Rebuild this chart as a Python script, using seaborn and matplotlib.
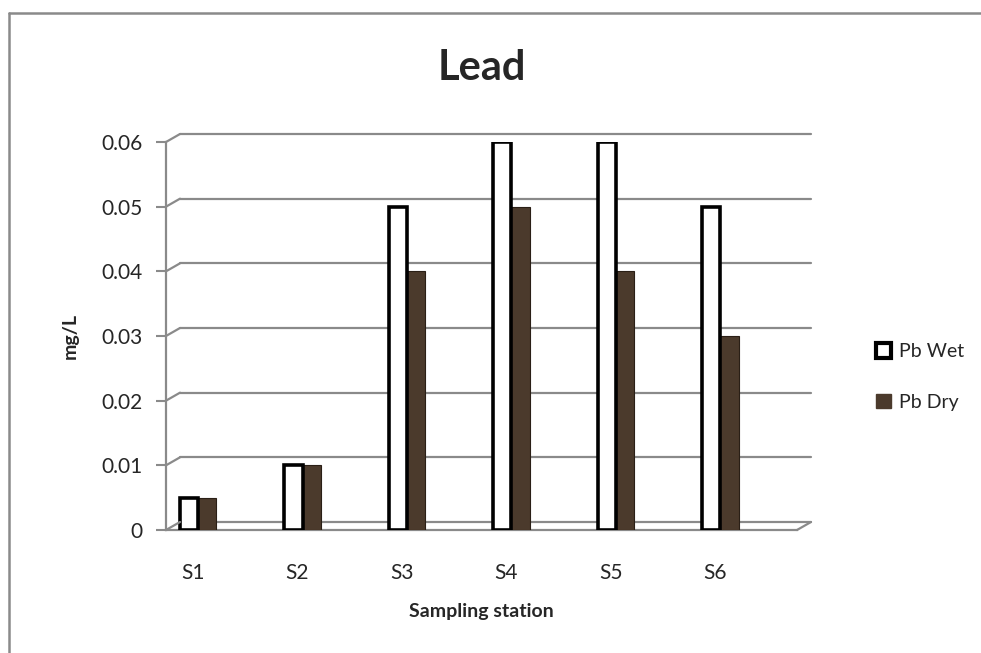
import numpy as np
import pandas as pd
import matplotlib
matplotlib.use("Agg")
import matplotlib.pyplot as plt
import seaborn as sns
from matplotlib.lines import Line2D
from matplotlib.patches import Patch
from matplotlib.transforms import ScaledTranslation

stations = ["S1", "S2", "S3", "S4", "S5", "S6"]
pb_wet = [0.005, 0.01, 0.05, 0.06, 0.06, 0.05]
pb_dry = [0.005, 0.01, 0.04, 0.05, 0.04, 0.03]
series = ["Pb Wet", "Pb Dry"]
y_ticks = [0, 0.01, 0.02, 0.03, 0.04, 0.05, 0.06]

df = pd.DataFrame({
    "station": stations * 2,
    "value": pb_wet + pb_dry,
    "series": [series[0]] * len(stations) + [series[1]] * len(stations),
})

sns.set_theme(style="white")
plt.rcParams["font.family"] = ["Lato", "DejaVu Sans"]

W, H, DPI = 981, 653, 100
fig = plt.figure(figsize=(W / DPI, H / DPI), dpi=DPI)
ax = fig.add_axes([166 / W, (H - 530) / H, (797 - 166) / W, (530 - 142) / H])

GREY = "#8a8a8a"
BROWN = "#4b3a2c"

sns.barplot(data=df, x="station", y="value", hue="series",
            palette=["white", BROWN], width=0.35, gap=0, ax=ax,
            legend=False, saturation=1, zorder=3)

for c, cont in enumerate(ax.containers):
    for p in cont:
        if c == 0:
            p.set_edgecolor("black")
            p.set_linewidth(2.6)
            p.set_zorder(4)
        else:
            p.set_edgecolor("#2a1f16")
            p.set_linewidth(0.8)
            p.set_zorder(3)

unit = 104.5
x0 = (166 - 198) / unit
x1 = (797 - 198) / unit
ax.set_xlim(x0, x1)
ax.set_ylim(0, 0.06)

ax.set_yticks(y_ticks)
ax.set_yticklabels(["0", "0.01", "0.02", "0.03", "0.04", "0.05", "0.06"], fontsize=15)
ax.set_xticks([i - 5 / unit for i in range(len(stations))])
ax.set_xticklabels(stations, fontsize=15)
ax.tick_params(axis="x", which="major", length=0, pad=24)
minor = [x0 + k * (x1 - x0) / 12 for k in range(13)]
ax.set_xticks(minor, minor=True)
ax.tick_params(axis="x", which="minor", length=8, width=1.5, color=GREY, direction="out")
ax.tick_params(axis="y", which="major", length=7, width=1.5, color=GREY, direction="out", pad=10, left=True)

for s in ["top", "right"]:
    ax.spines[s].set_visible(False)
for s in ["left", "bottom"]:
    ax.spines[s].set_color(GREY)
    ax.spines[s].set_linewidth(1.6)

ax.set_xlabel("Sampling station", fontsize=14, fontweight="bold", labelpad=14)
ax.set_ylabel("mg/L", fontsize=14, fontweight="bold", labelpad=16)
ax.set_title("Lead", fontsize=30, fontweight="bold", pad=45)

# back wall gridlines (3D look)
dx, dy = 14, 8
off = ax.transData + ScaledTranslation(dx / DPI, dy / DPI, fig.dpi_scale_trans)
for yv in y_ticks:
    ax.plot([x0, x1], [yv, yv], color=GREY, lw=1.6, transform=off, clip_on=False, zorder=1)
    px, py = ax.transData.transform((x0, yv))
    fig.add_artist(Line2D([px, px + dx], [py, py + dy], color=GREY, lw=1.6, transform=None))
px, py = ax.transData.transform((x1, 0))
fig.add_artist(Line2D([px, px + dx], [py, py + dy], color=GREY, lw=1.6, transform=None))

handles = [Patch(facecolor="white", edgecolor="black", linewidth=3.0),
           Patch(facecolor=BROWN, edgecolor=BROWN)]
fig.legend(handles, series, loc="center left", bbox_to_anchor=(858 / W, 1 - 377 / H),
           frameon=False, fontsize=14, handlelength=0.8, handleheight=0.8,
           labelspacing=1.7, handletextpad=0.4)

# chart border (partly cropped)
fig.add_artist(Line2D([9, 9], [0, H - 13], color=GREY, lw=1.8, transform=None))
fig.add_artist(Line2D([9, W], [H - 13, H - 13], color=GREY, lw=1.8, transform=None))

fig.savefig("out.png", dpi=DPI)
